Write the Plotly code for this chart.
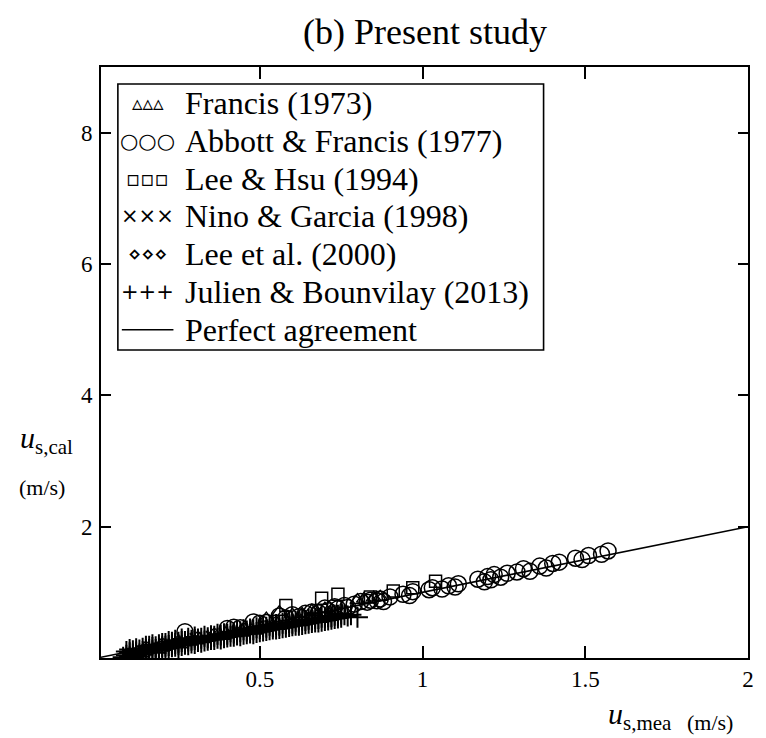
import plotly.graph_objects as go

# ---- measured vs calculated particle velocity (m/s) ----
fr_x = [0.52, 0.56, 0.60, 0.63, 0.66, 0.67, 0.70, 0.72, 0.80, 0.82, 0.85, 0.87]
fr_y = [0.60, 0.70, 0.66, 0.67, 0.72, 0.70, 0.75, 0.73, 0.88, 0.90, 0.92, 0.93]

af_x = [0.27, 0.40, 0.42, 0.44, 0.48, 0.50, 0.52, 0.56, 0.58, 0.60, 0.62, 0.64,
        0.66, 0.68, 0.70, 0.71, 0.73, 0.74, 0.76, 0.77, 0.79, 0.81, 0.83, 0.84,
        0.86, 0.87, 0.88, 0.90, 0.94, 0.96, 0.97, 1.02, 1.03, 1.06, 1.08, 1.10,
        1.11, 1.17, 1.19, 1.20, 1.21, 1.22, 1.24, 1.26, 1.29, 1.31, 1.33, 1.36,
        1.38, 1.40, 1.42, 1.47, 1.49, 1.51, 1.55, 1.57]
af_y = [0.40, 0.45, 0.47, 0.46, 0.55, 0.53, 0.54, 0.64, 0.61, 0.66, 0.63, 0.68,
        0.70, 0.69, 0.76, 0.72, 0.78, 0.75, 0.80, 0.77, 0.82, 0.86, 0.85, 0.88,
        0.87, 0.90, 0.86, 0.93, 0.97, 0.95, 1.01, 1.04, 1.07, 1.05, 1.10, 1.08,
        1.13, 1.20, 1.16, 1.24, 1.19, 1.27, 1.23, 1.29, 1.31, 1.36, 1.32, 1.40,
        1.37, 1.44, 1.46, 1.52, 1.50, 1.56, 1.58, 1.63]

ls_x = [0.58, 0.69, 0.74, 0.84, 0.91, 0.97, 1.04]
ls_y = [0.80, 0.91, 0.97, 0.93, 1.02, 1.07, 1.17]

ng_x = [0.30, 0.35, 0.41, 0.46, 0.53, 0.60, 0.66, 0.72]
ng_y = [0.30, 0.33, 0.40, 0.44, 0.50, 0.56, 0.62, 0.68]

le_x = [0.15, 0.20, 0.25, 0.31, 0.36, 0.45, 0.55]
le_y = [0.17, 0.22, 0.26, 0.32, 0.37, 0.45, 0.55]

jb_x = [0.09, 0.10, 0.10, 0.11, 0.11, 0.12, 0.12, 0.13, 0.13, 0.14, 0.14, 0.15,
        0.15, 0.16, 0.17, 0.17, 0.18, 0.19, 0.19, 0.20, 0.21, 0.21, 0.22, 0.23,
        0.24, 0.24, 0.25, 0.26, 0.27, 0.28, 0.29, 0.30, 0.31, 0.32, 0.33, 0.34,
        0.35, 0.36, 0.37, 0.38, 0.39, 0.40, 0.41, 0.42, 0.43, 0.44, 0.45, 0.46,
        0.47, 0.48, 0.49, 0.50, 0.51, 0.52, 0.53, 0.54, 0.55, 0.56, 0.57, 0.58,
        0.59, 0.60, 0.61, 0.62, 0.63, 0.64, 0.65, 0.66, 0.67, 0.68, 0.69, 0.70,
        0.71, 0.72, 0.73, 0.74, 0.75, 0.76, 0.78,
        0.08, 0.09, 0.10, 0.11, 0.12, 0.13, 0.14, 0.15, 0.16, 0.16, 0.17, 0.18,
        0.18, 0.19, 0.20, 0.20, 0.21, 0.22, 0.22, 0.23, 0.23, 0.24, 0.25, 0.25,
        0.26, 0.26, 0.27, 0.28, 0.28, 0.29, 0.30, 0.30, 0.31, 0.32, 0.33, 0.34,
        0.35, 0.36, 0.37, 0.38, 0.39, 0.40, 0.41, 0.42, 0.43, 0.44, 0.45, 0.46,
        0.47, 0.48, 0.49, 0.50, 0.51, 0.52, 0.53, 0.54, 0.55, 0.56, 0.57, 0.58,
        0.59, 0.60, 0.61, 0.62, 0.63, 0.64, 0.65, 0.66, 0.67, 0.68, 0.69, 0.70,
        0.71, 0.72, 0.73, 0.74, 0.75, 0.77, 0.80]
jb_y = [0.04, 0.08, 0.02, 0.06, 0.11, 0.03, 0.09, 0.12, 0.06, 0.10, 0.15, 0.08,
        0.13, 0.18, 0.11, 0.16, 0.13, 0.20, 0.15, 0.17, 0.22, 0.14, 0.19, 0.24,
        0.18, 0.22, 0.20, 0.25, 0.21, 0.26, 0.23, 0.28, 0.25, 0.30, 0.26, 0.31,
        0.28, 0.33, 0.30, 0.35, 0.31, 0.36, 0.33, 0.38, 0.35, 0.40, 0.36, 0.41,
        0.38, 0.43, 0.39, 0.45, 0.41, 0.47, 0.43, 0.48, 0.44, 0.50, 0.46, 0.52,
        0.48, 0.53, 0.50, 0.55, 0.51, 0.57, 0.53, 0.58, 0.55, 0.60, 0.56, 0.62,
        0.58, 0.63, 0.60, 0.65, 0.62, 0.66, 0.66,
        0.01, 0.10, 0.13, 0.00, 0.14, 0.02, 0.05, 0.18, 0.09, 0.13, 0.20, 0.08,
        0.17, 0.11, 0.22, 0.12, 0.18, 0.25, 0.15, 0.17, 0.21, 0.27, 0.16, 0.24,
        0.19, 0.29, 0.25, 0.20, 0.30, 0.27, 0.22, 0.32, 0.29, 0.24, 0.33, 0.27,
        0.34, 0.28, 0.36, 0.29, 0.37, 0.32, 0.40, 0.33, 0.41, 0.34, 0.43, 0.37,
        0.44, 0.37, 0.46, 0.40, 0.48, 0.42, 0.50, 0.44, 0.51, 0.45, 0.53, 0.47,
        0.54, 0.49, 0.56, 0.50, 0.58, 0.52, 0.59, 0.54, 0.60, 0.55, 0.62, 0.57,
        0.63, 0.59, 0.65, 0.61, 0.67, 0.64, 0.62]

pa_x = [0.0, 2.0]
pa_y = [0.0, 2.0]

x_ticks = [0.5, 1, 1.5, 2]
x_labels = ["0.5", "1", "1.5", "2"]
y_ticks = [2, 4, 6, 8]
y_labels = ["2", "4", "6", "8"]

legend_keys = ["\u25b5\u25b5\u25b5", "\u25cb\u25cb\u25cb", "\u25ab\u25ab\u25ab",
               "\u00d7\u00d7\u00d7", "\u22c4\u22c4\u22c4", "+++", ""]
legend_labels = ["Francis (1973)", "Abbott & Francis (1977)", "Lee & Hsu (1994)",
                 "Nino & Garcia (1998)", "Lee et al. (2000)",
                 "Julien & Bounvilay (2013)", "Perfect agreement"]

# ---- page geometry (pixels) ----
W, H = 766, 738
L, R, T, B = 101, 753, 67, 658
SERIF = "Liberation Serif, Times New Roman, serif"
BLACK = "black"


def px(xp):
    return (xp - L) / (R - L)


def py(yp):
    return (B - yp) / (B - T)


fig = go.Figure()

fig.add_trace(go.Scatter(x=pa_x, y=pa_y, mode="lines",
                         line=dict(color=BLACK, width=1.6), showlegend=False))
fig.add_trace(go.Scatter(x=jb_x, y=jb_y, mode="markers", showlegend=False,
                         marker=dict(symbol="cross-thin", size=15,
                                     line=dict(color=BLACK, width=2))))
fig.add_trace(go.Scatter(x=le_x, y=le_y, mode="markers", showlegend=False,
                         marker=dict(symbol="diamond-open", size=9, color=BLACK,
                                     line=dict(color=BLACK, width=1.3))))
fig.add_trace(go.Scatter(x=ng_x, y=ng_y, mode="markers", showlegend=False,
                         marker=dict(symbol="x-thin", size=10,
                                     line=dict(color=BLACK, width=1.5))))
fig.add_trace(go.Scatter(x=fr_x, y=fr_y, mode="markers", showlegend=False,
                         marker=dict(symbol="triangle-up-open", size=13, color=BLACK,
                                     line=dict(color=BLACK, width=1.4))))
fig.add_trace(go.Scatter(x=ls_x, y=ls_y, mode="markers", showlegend=False,
                         marker=dict(symbol="square-open", size=12, color=BLACK,
                                     line=dict(color=BLACK, width=1.5))))
fig.add_trace(go.Scatter(x=af_x, y=af_y, mode="markers", showlegend=False,
                         marker=dict(symbol="circle-open", size=16, color=BLACK,
                                     line=dict(color=BLACK, width=1.5))))

axis_common = dict(showgrid=False, zeroline=False, showline=True,
                   linecolor=BLACK, linewidth=1.6, mirror="ticks",
                   ticks="inside", tickcolor=BLACK, tickwidth=1.6,
                   tickfont=dict(family=SERIF, size=23, color=BLACK))

fig.update_layout(
    width=W, height=H,
    margin=dict(l=L, r=W - R, t=T, b=H - B),
    paper_bgcolor="white", plot_bgcolor="white",
    showlegend=False,
    xaxis=dict(range=[0.012, 2.0], tickvals=x_ticks, ticktext=x_labels,
               ticklen=12, **axis_common),
    yaxis=dict(range=[0.0, 9.0], tickvals=y_ticks, ticktext=y_labels,
               ticklen=10, ticklabelstandoff=2, **axis_common),
)

ann = []
# title
ann.append(dict(text="(b) Present study", x=0.5, y=py(32), xref="paper", yref="paper",
                showarrow=False, font=dict(family=SERIF, size=36, color=BLACK),
                xanchor="center", yanchor="middle"))
# axis titles
ann.append(dict(text="<i>u</i><sub>s,cal</sub>", x=px(17), y=py(440), xref="paper",
                yref="paper", showarrow=False, xanchor="left", yanchor="middle",
                font=dict(family=SERIF, size=30, color=BLACK)))
ann.append(dict(text="(m/s)", x=px(16), y=py(487), xref="paper", yref="paper",
                showarrow=False, xanchor="left", yanchor="middle",
                font=dict(family=SERIF, size=22, color=BLACK)))
ann.append(dict(text="<i>u</i><sub>s,mea</sub>", x=px(610), y=py(716), xref="paper",
                yref="paper", showarrow=False, xanchor="left", yanchor="middle",
                font=dict(family=SERIF, size=30, color=BLACK)))
ann.append(dict(text="(m/s)", x=px(690), y=py(722), xref="paper", yref="paper",
                showarrow=False, xanchor="left", yanchor="middle",
                font=dict(family=SERIF, size=22, color=BLACK)))

# legend box: keys on the left, labels to the right
LEG_L, LEG_R, LEG_T, LEG_B = 118, 547, 84, 350
row0, dy = 103, 37.8
for i, (key, label) in enumerate(zip(legend_keys, legend_labels)):
    yc = row0 + i * dy
    if key:
        ann.append(dict(text=key, x=px(148), y=py(yc), xref="paper", yref="paper",
                        showarrow=False, xanchor="center", yanchor="middle",
                        font=dict(family="DejaVu Sans", size=21, color=BLACK)))
    ann.append(dict(text=label, x=px(184), y=py(yc), xref="paper", yref="paper",
                    showarrow=False, xanchor="left", yanchor="middle",
                    font=dict(family=SERIF, size=32, color=BLACK)))

fig.update_layout(annotations=ann)
fig.add_shape(type="rect", xref="paper", yref="paper",
              x0=px(LEG_L), x1=px(LEG_R), y0=py(LEG_B), y1=py(LEG_T),
              line=dict(color=BLACK, width=1.6), fillcolor="white", layer="above")
# key line for the "Perfect agreement" entry
yk = row0 + 6 * dy
fig.add_shape(type="line", xref="paper", yref="paper",
              x0=px(122), x1=px(174), y0=py(yk), y1=py(yk),
              line=dict(color=BLACK, width=1.6), layer="above")

fig.write_html("out.html")
